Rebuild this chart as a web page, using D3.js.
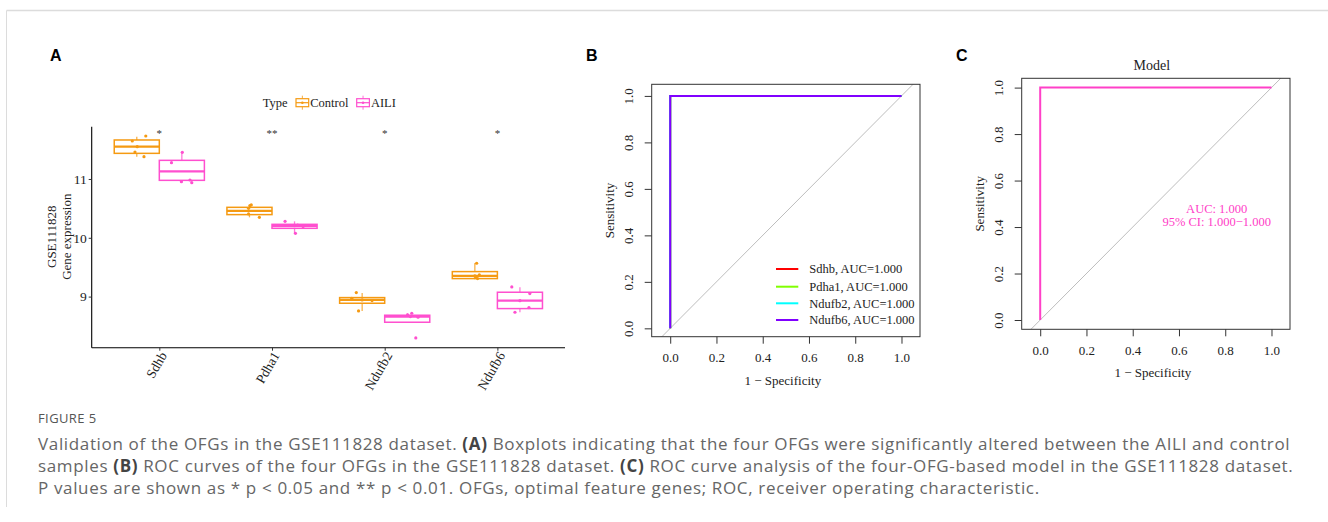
<!DOCTYPE html>
<html><head><meta charset="utf-8">
<script src="https://cdn.jsdelivr.net/npm/d3@7"></script>
<style>body{margin:0;background:#fff;} svg{display:block}</style>
</head><body><svg id="c" width="1328" height="522"></svg>
<script>
// ---------- DATA ----------
const genes = ["Sdhb", "Pdha1", "Ndufb2", "Ndufb6"];
const groups = ["Control", "AILI"];
const groupColors = ["#F59A12", "#FF4FCF"];
// box stats per gene: [whiskerLow, q1, median, q3, whiskerHigh]
const controlBox = [[11.38, 11.436, 11.55, 11.663, 11.72], [10.348, 10.394, 10.456, 10.518, 10.558], [8.756, 8.887, 8.943, 8.983, 9.062], [9.295, 9.306, 9.351, 9.425, 9.572]];
const ailiBox = [[10.94, 10.977, 11.13, 11.317, 11.453], [10.076, 10.161, 10.201, 10.229, 10.28], [8.564, 8.564, 8.66, 8.683, 8.717], [8.734, 8.796, 8.932, 9.074, 9.159]];
const controlPoints = [[11.646, 11.731, 11.459, 11.38, 11.55], [10.558, 10.547, 10.501, 10.405, 10.348], [9.068, 8.756, 8.972, 8.932, 8.943], [9.567, 9.368, 9.306, 9.33, 9.351]];
const ailiPoints = [[11.278, 11.453, 10.983, 10.938, 10.955], [10.28, 10.076, 10.19, 10.205, 10.215], [8.717, 8.688, 8.649, 8.297, 8.66], [9.164, 9.051, 8.813, 8.734, 8.93]];
// horizontal jitter of each point, as a fraction of the box width
const controlJitter = [[-0.10, 0.20, -0.04, 0.16, 0.01], [0.04, 0.01, -0.02, -0.02, 0.22], [-0.13, -0.08, -0.23, 0.22, 0], [0.04, 0.10, 0.06, 0.02, 0]];
const ailiJitter = [[-0.23, 0.01, 0.18, 0.22, -0.01], [-0.21, 0.02, 0.19, 0, 0.07], [0.10, 0.01, 0.24, 0.19, 0.07], [-0.18, 0.22, 0.20, -0.11, 0]];
const signif = ["*", "**", "*", "*"];
const yTicksA = [9, 10, 11];

const rocGenes = ["Sdhb", "Pdha1", "Ndufb2", "Ndufb6"];
const rocColors = ["#FF0000", "#80FF00", "#00FFFF", "#8000FF"];
const rocAUC = ["1.000", "1.000", "1.000", "1.000"];
const rocFPR = [0, 0, 1];
const rocTPR = [0, 1, 1];
const modelFPR = [0, 0, 1];
const modelTPR = [0, 1, 1];
const modelAUC = "1.000";
const modelCI = ["1.000", "1.000"];
const modelColor = "#FF40C8";
const rocTicks = [0, 0.2, 0.4, 0.6, 0.8, 1.0];

// ---------- DRAW ----------
const svg = d3.select("#c");
const serif = "'Liberation Serif','Times New Roman',serif";

// figure frame
svg.append("line").attr("x1", 6.5).attr("x2", 1328).attr("y1", 10.5).attr("y2", 10.5).attr("stroke", "#dcdcdc").attr("stroke-width", 1.5);
svg.append("line").attr("x1", 6.5).attr("x2", 6.5).attr("y1", 10.5).attr("y2", 507).attr("stroke", "#dcdcdc").attr("stroke-width", 1);

// panel letters
[["A", 50], ["B", 586], ["C", 956]].forEach(([t, x]) => {
  svg.append("text").attr("x", x).attr("y", 61).text(t)
    .attr("font-family", "'Liberation Sans',Arial,sans-serif").attr("font-weight", "bold").attr("font-size", 16).attr("fill", "#000");
});

// ===== Panel A =====
const yA = d3.scaleLinear().domain([8.131, 11.889]).range([347.7, 126.7]);
const xA = d3.scalePoint().domain(genes).range([91.7, 565]).padding(0.6);
const dodge = xA.step() * 0.8;
const xG = d3.scaleBand().domain(groups).range([-dodge / 2, dodge / 2]);
const bw = xG.bandwidth();
const gA = svg.append("g");

const boxes = [controlBox, ailiBox];
const pts = [controlPoints, ailiPoints];
const jit = [controlJitter, ailiJitter];

groups.forEach((grp, gi) => {
  const col = groupColors[gi];
  genes.forEach((gene, i) => {
    const cx = xA(gene) + xG(grp) + bw / 2;
    const [lo, q1, med, q3, hi] = boxes[gi][i];
    const g = gA.append("g");
    g.append("line").attr("x1", cx).attr("x2", cx).attr("y1", yA(q3)).attr("y2", yA(hi)).attr("stroke", col).attr("stroke-width", 1.3).attr("opacity", 0.75);
    g.append("line").attr("x1", cx).attr("x2", cx).attr("y1", yA(q1)).attr("y2", yA(lo)).attr("stroke", col).attr("stroke-width", 1.3).attr("opacity", 0.75);
    g.append("rect").attr("x", cx - bw / 2).attr("width", bw).attr("y", yA(q3)).attr("height", yA(q1) - yA(q3))
      .attr("fill", "#fff").attr("stroke", col).attr("stroke-width", 1.5);
    g.append("line").attr("x1", cx - bw / 2).attr("x2", cx + bw / 2).attr("y1", yA(med)).attr("y2", yA(med)).attr("stroke", col).attr("stroke-width", 2.2);
    pts[gi][i].forEach((v, k) => {
      g.append("circle").attr("cx", cx + jit[gi][i][k] * bw).attr("cy", yA(v)).attr("r", 1.6).attr("fill", col);
    });
  });
});

// significance labels
genes.forEach((gene, i) => {
  gA.append("text").attr("x", xA(gene)).attr("y", 137).attr("text-anchor", "middle")
    .attr("font-family", serif).attr("font-size", 11).attr("fill", "#333").text(signif[i]);
});

// axes A
const axL = gA.append("g").attr("transform", "translate(91.7,0)")
  .call(d3.axisLeft(yA).tickValues(yTicksA).tickSize(3).tickPadding(2).tickFormat(d3.format("d")));
axL.select(".domain").attr("d", `M0,${yA.range()[0]}V${yA.range()[1]}`).attr("stroke", "#000").attr("stroke-width", 1.1);
axL.selectAll("text").attr("font-family", serif).attr("font-size", 13.5).attr("fill", "#222");
axL.selectAll(".tick line").attr("stroke", "#333");

const axB = gA.append("g").attr("transform", "translate(0,347.7)")
  .call(d3.axisBottom(xA).tickSize(3).tickPadding(2));
axB.select(".domain").attr("d", `M91.7,0H565`).attr("stroke", "#000").attr("stroke-width", 1.1);
axB.selectAll(".tick line").attr("stroke", "#333");
axB.selectAll("text").attr("font-family", serif).attr("font-size", 13.5).attr("fill", "#222")
  .attr("text-anchor", "end").attr("dy", null).attr("y", null)
  .attr("transform", "translate(5,6) rotate(-60)").attr("dominant-baseline", "middle");

// y title
gA.append("text").attr("transform", "translate(56,236.7) rotate(-90)").attr("text-anchor", "middle")
  .attr("font-family", serif).attr("font-size", 13).attr("fill", "#222").text("GSE111828");
gA.append("text").attr("transform", "translate(70.5,236.7) rotate(-90)").attr("text-anchor", "middle")
  .attr("font-family", serif).attr("font-size", 13).attr("fill", "#222").text("Gene expression");

// legend A
const legY = 102.7;
gA.append("text").attr("x", 262.7).attr("y", legY + 4.3).attr("font-family", serif).attr("font-size", 12.5).attr("fill", "#222").text("Type");
const legKeyX = [296, 356.7];
groups.forEach((grp, gi) => {
  const kx = legKeyX[gi], kw = 12.7, col = groupColors[gi], c = kx + kw / 2;
  const k = gA.append("g");
  k.append("line").attr("x1", c).attr("x2", c).attr("y1", legY - 7).attr("y2", legY + 7).attr("stroke", col).attr("stroke-width", 1).attr("opacity", 0.8);
  k.append("rect").attr("x", kx).attr("y", legY - 4).attr("width", kw).attr("height", 8).attr("fill", "#fff").attr("stroke", col).attr("stroke-width", 1.2);
  k.append("line").attr("x1", kx).attr("x2", kx + kw).attr("y1", legY).attr("y2", legY).attr("stroke", col).attr("stroke-width", 1.2);
  k.append("circle").attr("cx", c).attr("cy", legY).attr("r", 1.3).attr("fill", col);
  gA.append("text").attr("x", kx + kw + 1.5).attr("y", legY + 4.3).attr("font-family", serif).attr("font-size", 12.5).attr("fill", "#222").text(grp);
});

// ===== ROC panels =====
function rocPanel(opt) {
  const g = svg.append("g");
  const x = d3.scaleLinear().domain(opt.xd).range(opt.xr);
  const y = d3.scaleLinear().domain(opt.yd).range(opt.yr);
  const id = "clip" + opt.name;
  svg.append("defs").append("clipPath").attr("id", id).append("rect")
    .attr("x", opt.xr[0]).attr("y", opt.yr[1]).attr("width", opt.xr[1] - opt.xr[0]).attr("height", opt.yr[0] - opt.yr[1]);
  g.append("line").attr("clip-path", `url(#${id})`)
    .attr("x1", x(-0.2)).attr("y1", y(-0.2)).attr("x2", x(1.2)).attr("y2", y(1.2))
    .attr("stroke", "#bdbdbd").attr("stroke-width", 1);
  const line = d3.line().x(d => x(d[0])).y(d => y(d[1]));
  opt.curves.forEach(cv => {
    g.append("path").attr("d", line(cv.fpr.map((f, i) => [f, cv.tpr[i]])))
      .attr("fill", "none").attr("stroke", cv.color).attr("stroke-width", 2);
  });
  g.append("rect").attr("x", opt.xr[0]).attr("y", opt.yr[1]).attr("width", opt.xr[1] - opt.xr[0]).attr("height", opt.yr[0] - opt.yr[1])
    .attr("fill", "none").attr("stroke", "#333").attr("stroke-width", 1);
  const ax = g.append("g").attr("transform", `translate(0,${opt.yr[0]})`)
    .call(d3.axisBottom(x).tickValues(rocTicks).tickSize(7).tickPadding(9).tickFormat(d3.format(".1f")));
  ax.select(".domain").remove();
  ax.selectAll(".tick line").attr("stroke", "#333");
  ax.selectAll("text").attr("font-family", serif).attr("font-size", 13).attr("fill", "#222");
  const ay = g.append("g").attr("transform", `translate(${opt.xr[0]},0)`)
    .call(d3.axisLeft(y).tickValues(rocTicks).tickSize(7).tickFormat(d3.format(".1f")));
  ay.select(".domain").remove();
  ay.selectAll(".tick line").attr("stroke", "#333");
  ay.selectAll("text").attr("font-family", serif).attr("font-size", 13).attr("fill", "#222")
    .attr("x", null).attr("dy", null).attr("text-anchor", "middle").attr("dominant-baseline", "middle")
    .attr("transform", "translate(-21.7,0) rotate(-90)");
  g.append("text").attr("x", (opt.xr[0] + opt.xr[1]) / 2 - 3).attr("y", opt.yr[0] + 48).attr("text-anchor", "middle")
    .attr("font-family", serif).attr("font-size", 13).attr("fill", "#222").text("1 \u2212 Specificity");
  g.append("text").attr("transform", `translate(${opt.xr[0] - 37.5},${(opt.yr[0] + opt.yr[1]) / 2}) rotate(-90)`).attr("text-anchor", "middle")
    .attr("font-family", serif).attr("font-size", 13).attr("fill", "#222").text("Sensitivity");
  return { g, x, y };
}

// Panel B
const B = rocPanel({
  name: "B", xd: [-0.08, 1.08], xr: [651.7, 920], yd: [-0.036, 1.05], yr: [336.7, 84.3],
  curves: rocGenes.map((gname, i) => ({ fpr: rocFPR, tpr: rocTPR, color: rocColors[i] }))
});
const legRows = [269, 286.7, 303.3, 320];
rocGenes.forEach((gname, i) => {
  B.g.append("line").attr("x1", 776).attr("x2", 798.3).attr("y1", legRows[i]).attr("y2", legRows[i]).attr("stroke", rocColors[i]).attr("stroke-width", 2);
  B.g.append("text").attr("x", 809.3).attr("y", legRows[i] + 4.3).attr("font-family", serif).attr("font-size", 12.5).attr("fill", "#222")
    .text(`${gname}, AUC=${rocAUC[i]}`);
});

// Panel C
const C = rocPanel({
  name: "C", xd: [-0.08, 1.08], xr: [1021.7, 1290], yd: [-0.04, 1.04], yr: [329.3, 78.3],
  curves: [{ fpr: modelFPR, tpr: modelTPR, color: modelColor }]
});
C.g.append("text").attr("x", (1021.7 + 1290) / 2 - 4).attr("y", 70).attr("text-anchor", "middle")
  .attr("font-family", serif).attr("font-size", 14).attr("fill", "#222").text("Model");
C.g.append("text").attr("x", C.x(0.763)).attr("y", C.y(0.48) + 4.3).attr("text-anchor", "middle")
  .attr("font-family", serif).attr("font-size", 12.5).attr("fill", modelColor).text(`AUC: ${modelAUC}`);
C.g.append("text").attr("x", C.x(0.763)).attr("y", C.y(0.425) + 4.3).attr("text-anchor", "middle")
  .attr("font-family", serif).attr("font-size", 12.5).attr("fill", modelColor).text(`95% CI: ${modelCI[0]}\u2212${modelCI[1]}`);

// ===== Caption =====
const cap = svg.append("g").attr("font-family", "'Open Sans',sans-serif").attr("fill", "#666");
cap.append("text").attr("x", 38).attr("y", 422.5).attr("font-size", 13).attr("fill", "#555").attr("letter-spacing", 0.4).text("FIGURE 5");
const capLines = [
  [["Validation of the OFGs in the GSE111828 dataset. ", 0], ["(A)", 1], [" Boxplots indicating that the four OFGs were significantly altered between the AILI and control", 0]],
  [["samples ", 0], ["(B)", 1], [" ROC curves of the four OFGs in the GSE111828 dataset. ", 0], ["(C)", 1], [" ROC curve analysis of the four-OFG-based model in the GSE111828 dataset.", 0]],
  [["P values are shown as * p < 0.05 and ** p < 0.01. OFGs, optimal feature genes; ROC, receiver operating characteristic.", 0]]
];
const capY = [450, 472, 494];
capLines.forEach((parts, li) => {
  const t = cap.append("text").attr("x", 38).attr("y", capY[li]).attr("font-size", 17).attr("letter-spacing", 0.65).attr("xml:space", "preserve");
  parts.forEach(([s, b]) => {
    const ts = t.append("tspan").text(s);
    if (b) ts.attr("font-weight", "bold").attr("fill", "#444");
  });
});
</script>
</body></html>
